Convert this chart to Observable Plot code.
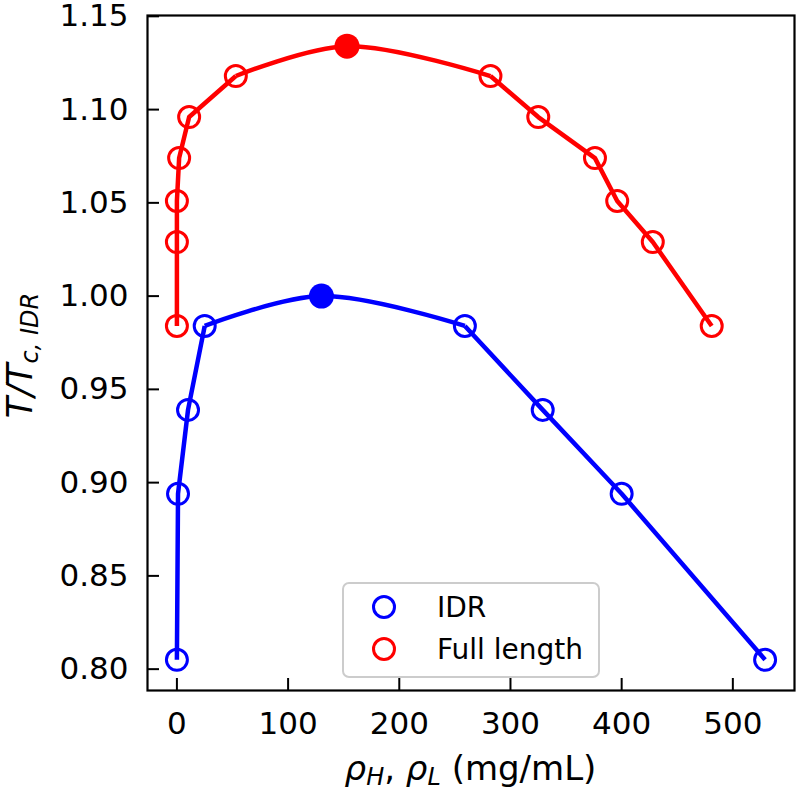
<!DOCTYPE html>
<html>
<head>
<meta charset="utf-8">
<script src="https://cdn.jsdelivr.net/npm/d3@7"></script>
<script src="https://cdn.jsdelivr.net/npm/@observablehq/plot@0.6"></script>
<style>
  html, body { margin: 0; padding: 0; background: #fff; }
  #chart svg { display: block; }
</style>
</head>
<body>
<div id="chart"></div>
<script>
// ---- data ----
const idrLowX  = [0, 1, 10, 25];
const idrLowY  = [0.805, 0.894, 0.939, 0.984];
const idrHighX = [259, 329, 400, 529];
const idrHighY = [0.984, 0.939, 0.894, 0.805];
const idrCritX = 130, idrCritY = 1.000;

const fullLowX  = [0, 0, 0, 2, 11, 53];
const fullLowY  = [0.984, 1.029, 1.051, 1.074, 1.096, 1.118];
const fullHighX = [282, 325, 376, 396, 428, 481];
const fullHighY = [1.118, 1.096, 1.074, 1.051, 1.029, 0.984];
const fullCritX = 153, fullCritY = 1.134;

const xTicks = [0, 100, 200, 300, 400, 500];
const yTicks = [0.80, 0.85, 0.90, 0.95, 1.00, 1.05, 1.10, 1.15];
const seriesNames = ["IDR", "Full length"];
const seriesColors = ["#0000ff", "#ff0000"];

// ---- build tables ----
function branch(xs, ys, s) { return xs.map((x, i) => ({x, y: ys[i], s})); }
const idrLow = branch(idrLowX, idrLowY, "IDR");
const idrHigh = branch(idrHighX, idrHighY, "IDR");
const fullLow = branch(fullLowX, fullLowY, "Full length");
const fullHigh = branch(fullHighX, fullHighY, "Full length");
const idrCrit = {x: idrCritX, y: idrCritY, s: "IDR"};
const fullCrit = {x: fullCritX, y: fullCritY, s: "Full length"};

const openPts = [...idrLow, ...idrHigh, ...fullLow, ...fullHigh];
const crit = [idrCrit, fullCrit];
const arcIdr = [idrLow[idrLow.length - 1], idrCrit, idrHigh[0]];
const arcFull = [fullLow[fullLow.length - 1], fullCrit, fullHigh[0]];

// matplotlib-like 5% margins
const allX = [...openPts, ...crit].map(d => d.x);
const allY = [...openPts, ...crit].map(d => d.y);
const [x0, x1] = d3.extent(allX), [y0, y1] = d3.extent(allY);
const xDom = [x0 - 0.05 * (x1 - x0), x1 + 0.05 * (x1 - x0)];
const yDom = [y0 - 0.05 * (y1 - y0), y1 + 0.05 * (y1 - y0)];

const W = 800, H = 793;
const mL = 147, mR = 6, mT = 15, mB = 103;
const innerW = W - mL - mR, innerH = H - mT - mB;
const tickLen = 12;
const FONT = "DejaVu Sans";
const LW = 4.5;

const lineOpts = {x: "x", y: "y", stroke: "s", strokeWidth: LW, strokeLinejoin: "round", strokeLinecap: "butt"};

const plot = Plot.plot({
  width: W, height: H,
  marginLeft: mL, marginRight: mR, marginTop: mT, marginBottom: mB,
  style: {fontFamily: FONT, background: "white", color: "black"},
  x: {domain: xDom},
  y: {domain: yDom},
  color: {domain: seriesNames, range: seriesColors},
  marks: [
    Plot.line(idrLow, lineOpts),
    Plot.line(idrHigh, lineOpts),
    Plot.line(fullLow, lineOpts),
    Plot.line(fullHigh, lineOpts),
    Plot.line(arcIdr, {...lineOpts, curve: "catmull-rom"}),
    Plot.line(arcFull, {...lineOpts, curve: "catmull-rom"}),
    Plot.dot(openPts, {x: "x", y: "y", stroke: "s", fill: "none", r: 10.5, strokeWidth: 3}),
    Plot.dot(crit, {x: "x", y: "y", fill: "s", stroke: "none", r: 12.5}),
    // inward ticks
    Plot.tickX(xTicks, {x: d => d, insetTop: innerH - tickLen, stroke: "black", strokeWidth: 2}),
    Plot.tickY(yTicks, {y: d => d, insetRight: innerW - tickLen, stroke: "black", strokeWidth: 2}),
    Plot.axisX(xTicks, {tickSize: 0, tickPadding: 21, fontSize: 31, label: null}),
    Plot.axisY(yTicks, {tickSize: 0, tickPadding: 19, fontSize: 31, tickFormat: d3.format(".2f"), label: null}),
    Plot.frame({stroke: "black", strokeWidth: 2.2})
  ]
});

document.getElementById("chart").appendChild(plot);

// ---- axis titles and legend ----
const svg = d3.select(plot);

// y title
const yt = svg.append("text")
  .attr("transform", `translate(32, ${mT + innerH / 2 + 3}) rotate(-90)`)
  .attr("text-anchor", "middle")
  .attr("font-family", FONT).attr("font-size", 35).attr("fill", "black")
  .attr("font-style", "italic");
yt.append("tspan").text("T/T");
yt.append("tspan").attr("font-size", 24).attr("dy", 6).text("c, IDR");

// x title
const xt = svg.append("text")
  .attr("x", mL + innerW / 2).attr("y", 780)
  .attr("text-anchor", "middle")
  .attr("font-family", FONT).attr("font-size", 34).attr("fill", "black");
xt.append("tspan").attr("font-style", "italic").text("ρ");
xt.append("tspan").attr("font-style", "italic").attr("font-size", 24).attr("dy", 5).text("H");
xt.append("tspan").attr("dy", -5).text(", ");
xt.append("tspan").attr("font-style", "italic").text("ρ");
xt.append("tspan").attr("font-style", "italic").attr("font-size", 24).attr("dy", 5).text("L");
xt.append("tspan").attr("dy", -5).text(" (mg/mL)");

// legend
const lg = svg.append("g").attr("text-anchor", "start");
lg.append("rect")
  .attr("x", 343).attr("y", 583).attr("width", 256).attr("height", 94)
  .attr("rx", 6).attr("fill", "white").attr("fill-opacity", 0.8)
  .attr("stroke", "#cccccc").attr("stroke-width", 2);
seriesNames.forEach((name, i) => {
  const cy = 607 + i * 42;
  lg.append("circle").attr("cx", 384).attr("cy", cy).attr("r", 10.5)
    .attr("fill", "none").attr("stroke", seriesColors[i]).attr("stroke-width", 3);
  lg.append("text").attr("x", 437).attr("y", cy + 10)
    .attr("text-anchor", "start")
    .attr("font-family", FONT).attr("font-size", 28).attr("fill", "black")
    .text(name);
});
</script>
</body>
</html>
